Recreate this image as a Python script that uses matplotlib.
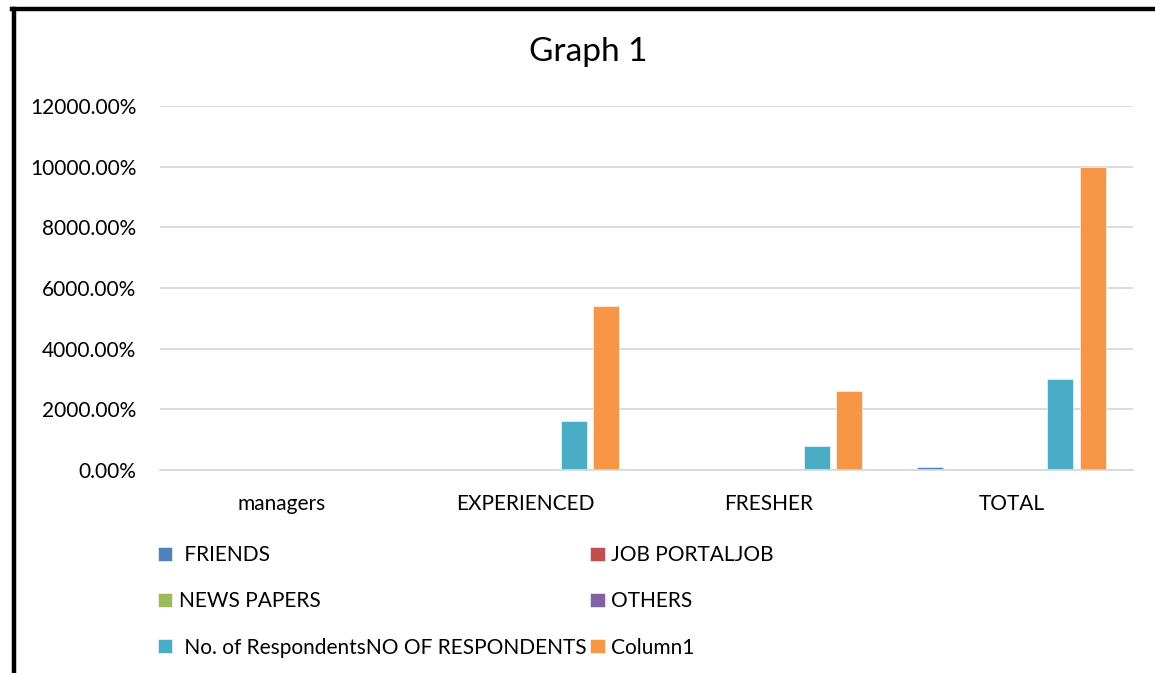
import matplotlib.pyplot as plt
import numpy as np
from matplotlib.ticker import PercentFormatter, MultipleLocator
from matplotlib.lines import Line2D

plt.rcParams['font.family'] = ['Lato', 'DejaVu Sans']

categories = ['managers', 'EXPERIENCED', 'FRESHER', 'TOTAL']

# values as fractions (1.0 = 100%)
friends = [0.0, 0.5, 0.0, 1.0]
job_portal = [0.0, 0.15, 0.15, 0.25]
news_papers = [0.0, 0.0, 0.0, 0.0]
others = [0.0, 0.0, 0.0, 0.0]
respondents = [0.0, 16.0, 8.0, 30.0]
column1 = [0.0, 54.0, 26.0, 100.0]

series = [
    (' FRIENDS', friends, '#4F81BD'),
    ('JOB PORTALJOB', job_portal, '#C0504D'),
    ('NEWS PAPERS', news_papers, '#9BBB59'),
    ('OTHERS', others, '#8064A2'),
    (' No. of RespondentsNO OF RESPONDENTS', respondents, '#4BACC6'),
    ('Column1', column1, '#F79646'),
]

fig = plt.figure(figsize=(11.55, 6.73), dpi=100)
ax = fig.add_axes([0.1385, 0.3016, 0.981 - 0.1385, 0.8425 - 0.3016])

x = np.arange(len(categories))
pitch = 0.1335
width = 0.107
handles = {}
for i, (label, vals, color) in enumerate(series):
    offset = (i - 2.5) * pitch
    b = ax.bar(x + offset, vals, width, color=color, label=label,
               edgecolor='white', linewidth=0.4)
    handles[label] = b

ax.set_xlim(-0.5, len(categories) - 0.5)
ax.set_ylim(0, 120)
ax.yaxis.set_major_locator(MultipleLocator(20))
ax.yaxis.set_major_formatter(PercentFormatter(xmax=1, decimals=2))
ax.set_xticks(x)
ax.set_xticklabels(categories)
ax.tick_params(axis='both', length=0, labelsize=15, colors='black')
ax.tick_params(axis='x', pad=17)
ax.tick_params(axis='y', pad=17)
ax.grid(axis='y', color='#D9D9D9', linewidth=1.3)
ax.set_axisbelow(True)
for side in ['top', 'right', 'left']:
    ax.spines[side].set_visible(False)
ax.spines['bottom'].set_color('#D9D9D9')
ax.spines['bottom'].set_linewidth(1.3)

fig.text(0.509, 0.922, 'Graph 1', ha='center', va='center', fontsize=24)

# legend: left column first three series, right column last three
order = [' FRIENDS', 'NEWS PAPERS', ' No. of RespondentsNO OF RESPONDENTS',
         'JOB PORTALJOB', 'OTHERS', 'Column1']
leg = fig.legend([handles[k] for k in order], order, ncol=2,
                 loc='upper left', bbox_to_anchor=(0.128, 0.205),
                 frameon=False, fontsize=15, handlelength=0.68,
                 handleheight=0.68, handletextpad=0.3, columnspacing=0.2,
                 labelspacing=1.25, borderpad=0)

# page border on left and top
fig.add_artist(Line2D([0.0117, 0.0117], [0.0, 0.9866], color='black',
                      linewidth=3.2, transform=fig.transFigure))
fig.add_artist(Line2D([0.0105, 1.0], [0.9866, 0.9866], color='black',
                      linewidth=3.2, transform=fig.transFigure))

fig.savefig('out.png', dpi=100)
